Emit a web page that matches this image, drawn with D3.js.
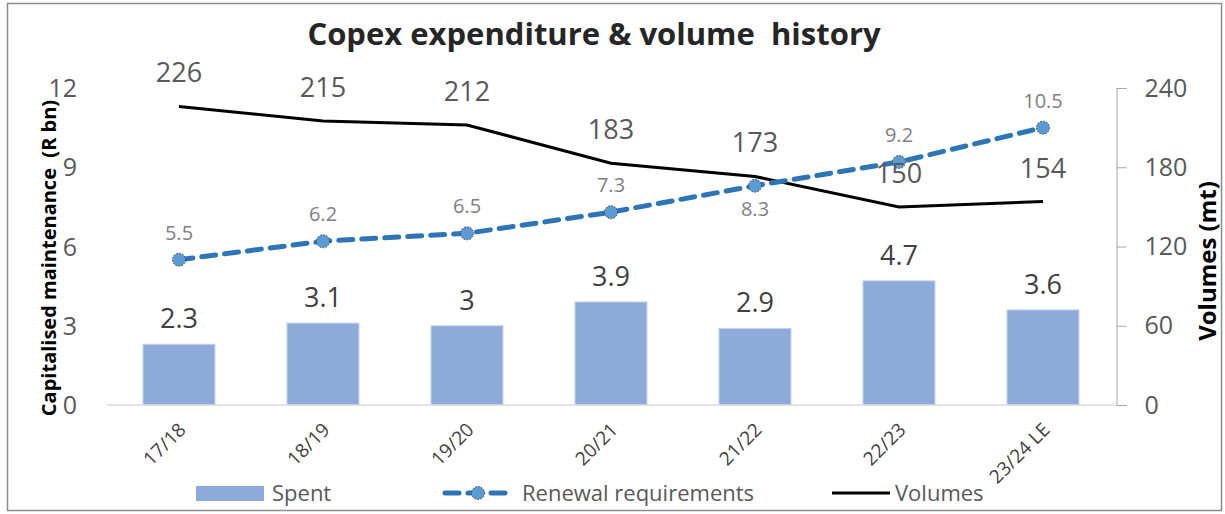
<!DOCTYPE html>
<html>
<head>
<meta charset="utf-8">
<script src="https://cdn.jsdelivr.net/npm/d3@7"></script>
<style>
  body { margin: 0; background: #fff; }
  svg text { font-family: "Open Sans", Lato, sans-serif; }
</style>
</head>
<body>
<div id="chart"></div>
<script>
var categories = ["17/18", "18/19", "19/20", "20/21", "21/22", "22/23", "23/24 LE"];
var spent = [2.3, 3.1, 3, 3.9, 2.9, 4.7, 3.6];
var renewal = [5.5, 6.2, 6.5, 7.3, 8.3, 9.2, 10.5];
var volumes = [226, 215, 212, 183, 173, 150, 154];
var leftTicks = [0, 3, 6, 9, 12];
var rightTicks = [0, 60, 120, 180, 240];

var width = 1225, height = 514;
var barColor = "#8EAADB", dashColor = "#2E75B6", markColor = "#5B9BD5";

var svg = d3.select("#chart")
    .append("svg")
    .attr("width", width)
    .attr("height", height);

// outer frame
svg.append("rect")
    .attr("x", 7.5)
    .attr("y", 3.5)
    .attr("width", 1214)
    .attr("height", 507)
    .attr("fill", "none")
    .attr("stroke", "#8c8c8c")
    .attr("stroke-width", 1.5);

var x = d3.scaleBand()
    .domain(categories)
    .range([107, 1115])
    .paddingInner(0.5)
    .paddingOuter(0.25);
var yL = d3.scaleLinear().domain([0, 12]).range([405, 88]);
var yR = d3.scaleLinear().domain([0, 240]).range([405, 88]);
var cx = function (d) { return x(d) + x.bandwidth() / 2; };

// title
svg.append("text")
    .attr("x", 594)
    .attr("y", 45)
    .attr("text-anchor", "middle")
    .attr("font-size", "31px")
    .attr("font-weight", "bold")
    .attr("fill", "#262626")
    .style("white-space", "pre")
    .text("Copex expenditure & volume  history");

// left axis labels
svg.append("g").selectAll("text")
    .data(leftTicks)
    .enter().append("text")
    .attr("x", 77)
    .attr("y", function (d) { return yL(d) + 9; })
    .attr("text-anchor", "end")
    .attr("font-size", "25px")
    .attr("fill", "#595959")
    .text(function (d) { return d; });

// right axis
var right = svg.append("g").attr("transform", "translate(1116.5,0)");
right.call(d3.axisRight(yR).tickValues(rightTicks).tickSize(10).tickPadding(18).tickFormat(d3.format("d")));
right.select(".domain").attr("stroke", "#a6a6a6");
right.selectAll(".tick line").attr("stroke", "#a6a6a6");
right.selectAll(".tick text")
    .attr("font-size", "25px")
    .attr("fill", "#595959")
    .attr("font-family", "'Open Sans', Lato, sans-serif");

// axis titles
svg.append("text")
    .attr("transform", "translate(56,258) rotate(-90)")
    .attr("text-anchor", "middle")
    .attr("font-size", "20px")
    .attr("font-weight", "bold")
    .attr("fill", "#000")
    .style("white-space", "pre")
    .text("Capitalised maintenance  (R bn)");
svg.append("text")
    .attr("transform", "translate(1216,261) rotate(-90)")
    .attr("text-anchor", "middle")
    .attr("font-size", "24px")
    .attr("font-weight", "bold")
    .attr("fill", "#000")
    .text("Volumes (mt)");

// bars
svg.append("g").selectAll("rect")
    .data(categories)
    .enter().append("rect")
    .attr("x", function (d) { return x(d); })
    .attr("y", function (d, i) { return yL(spent[i]); })
    .attr("width", x.bandwidth())
    .attr("height", function (d, i) { return yL(0) - yL(spent[i]); })
    .attr("fill", barColor)
    .attr("stroke", "#c5d4ee")
    .attr("stroke-width", 1);

// baseline
svg.append("line")
    .attr("x1", 107).attr("x2", 1116)
    .attr("y1", 405).attr("y2", 405)
    .attr("stroke", "#d9d9d9")
    .attr("stroke-width", 1.5);

// bar labels
svg.append("g").selectAll("text")
    .data(categories)
    .enter().append("text")
    .attr("x", cx)
    .attr("y", function (d, i) { return yL(spent[i]) - 16; })
    .attr("text-anchor", "middle")
    .attr("font-size", "27px")
    .attr("fill", "#404040")
    .text(function (d, i) { return spent[i]; });

// x labels
svg.append("g").selectAll("text")
    .data(categories)
    .enter().append("text")
    .attr("transform", function (d) { return "translate(" + (cx(d) + 8) + ",431) rotate(-45)"; })
    .attr("text-anchor", "end")
    .attr("font-size", "19px")
    .attr("fill", "#404040")
    .text(function (d) { return d; });

// volumes line
var volLine = d3.line()
    .x(function (d, i) { return cx(categories[i]); })
    .y(function (d) { return yR(d); });
svg.append("path")
    .datum(volumes)
    .attr("d", volLine)
    .attr("fill", "none")
    .attr("stroke", "#000")
    .attr("stroke-width", 3);

// renewal line
var renLine = d3.line()
    .x(function (d, i) { return cx(categories[i]); })
    .y(function (d) { return yL(d); });
svg.append("path")
    .datum(renewal)
    .attr("d", renLine)
    .attr("fill", "none")
    .attr("stroke", dashColor)
    .attr("stroke-width", 5)
    .attr("stroke-dasharray", "14,9")
    .attr("stroke-linecap", "round");

svg.append("g").selectAll("circle")
    .data(renewal)
    .enter().append("circle")
    .attr("cx", function (d, i) { return cx(categories[i]); })
    .attr("cy", function (d) { return yL(d); })
    .attr("r", 6.5)
    .attr("fill", markColor)
    .attr("stroke", "#404040")
    .attr("stroke-width", 1)
    .attr("stroke-dasharray", "1.5,1.5");

// renewal labels (8.3 sits below its point)
svg.append("g").selectAll("text")
    .data(renewal)
    .enter().append("text")
    .attr("x", function (d, i) { return cx(categories[i]); })
    .attr("y", function (d, i) { return i === 4 ? yL(d) + 30 : yL(d) - 20; })
    .attr("text-anchor", "middle")
    .attr("font-size", "20px")
    .attr("fill", "#7f7f7f")
    .text(function (d) { return d; });

// volume labels
svg.append("g").selectAll("text")
    .data(volumes)
    .enter().append("text")
    .attr("x", function (d, i) { return cx(categories[i]); })
    .attr("y", function (d) { return yR(d) - 24; })
    .attr("text-anchor", "middle")
    .attr("font-size", "27px")
    .attr("fill", "#595959")
    .text(function (d) { return d; });

// legend
var lg = svg.append("g");
lg.append("rect")
    .attr("x", 196).attr("y", 486)
    .attr("width", 68).attr("height", 15)
    .attr("fill", barColor);
lg.append("text")
    .attr("x", 272).attr("y", 501)
    .attr("font-size", "22px").attr("fill", "#595959")
    .text("Spent");
lg.append("line")
    .attr("x1", 445).attr("x2", 506)
    .attr("y1", 493).attr("y2", 493)
    .attr("stroke", dashColor)
    .attr("stroke-width", 5)
    .attr("stroke-dasharray", "14,9")
    .attr("stroke-linecap", "round");
lg.append("circle")
    .attr("cx", 478).attr("cy", 493).attr("r", 6.5)
    .attr("fill", markColor)
    .attr("stroke", "#404040")
    .attr("stroke-width", 1)
    .attr("stroke-dasharray", "1.5,1.5");
lg.append("text")
    .attr("x", 522).attr("y", 501)
    .attr("font-size", "22px").attr("fill", "#595959")
    .text("Renewal requirements");
lg.append("line")
    .attr("x1", 832).attr("x2", 890)
    .attr("y1", 493).attr("y2", 493)
    .attr("stroke", "#000")
    .attr("stroke-width", 3);
lg.append("text")
    .attr("x", 895).attr("y", 501)
    .attr("font-size", "22px").attr("fill", "#595959")
    .text("Volumes");
</script>
</body>
</html>
